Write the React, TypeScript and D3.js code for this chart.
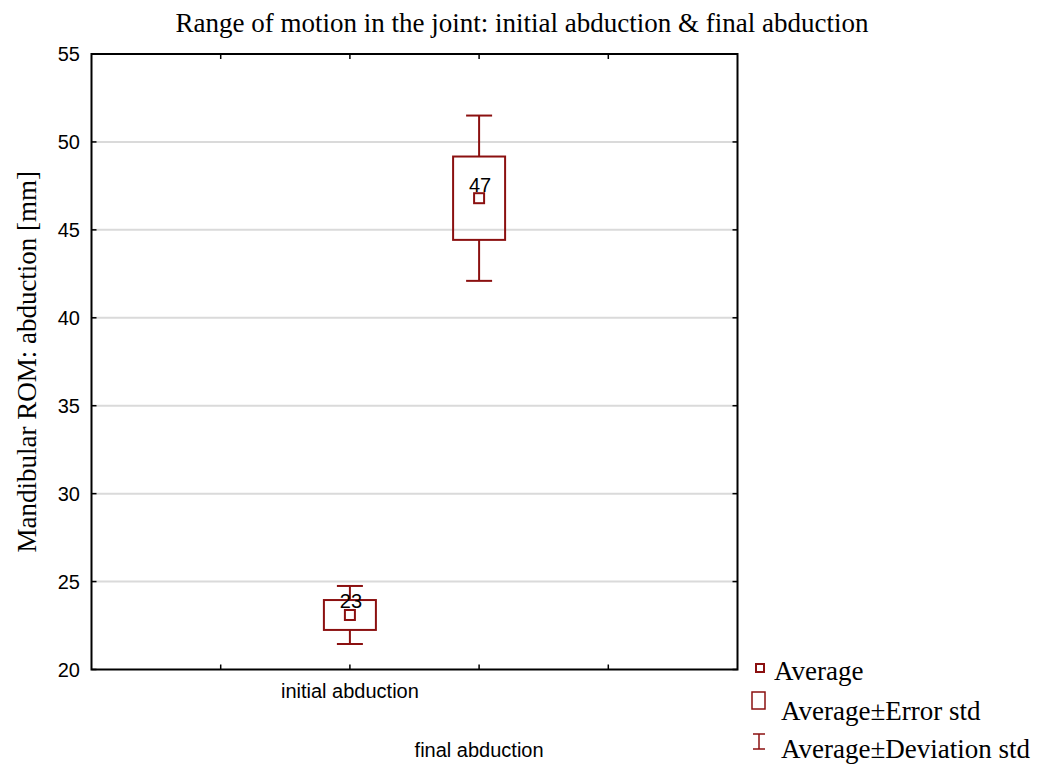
import React from "react";
import * as d3 from "d3";

// Range of motion summary: mean, standard error and standard deviation per measurement
const categories = ["initial abduction", "final abduction"];
const means = [23.1, 46.8];
const stdErrors = [0.85, 2.37];
const stdDevs = [1.65, 4.7];
const meanLabels = ["23", "47"];
const yTicks = [20, 25, 30, 35, 40, 45, 50, 55];
const legendItems = ["Average", "Average\u00B1Error std", "Average\u00B1Deviation std"];

const W = 1048;
const H = 765;
const M = { left: 91.5, right: 737.5, top: 54, bottom: 669.5 };
const RED = "#8b1010";
const SANS = "Liberation Sans, Arial, sans-serif";
const SERIF = "Liberation Serif, Times New Roman, serif";

export default function App() {
  const y = d3.scaleLinear().domain([20, 55]).range([M.bottom, M.top]);
  // Five equal slots across the frame; the two categories sit on the 2nd and 3rd tick
  const x = d3.scaleLinear().domain([0, 5]).range([M.left, M.right]);
  const slotTicks = [1, 2, 3, 4];
  const boxW = 52;
  const capW = 26;
  const markS = 10;

  return (
    <svg width={W} height={H} style={{ position: "absolute", left: 0, top: 0, background: "#fff" }}>
      <rect width={W} height={H} fill="#fff" />
      {/* grid */}
      {yTicks.slice(1, -1).map((t) => (
        <line key={"g" + t} x1={M.left} x2={M.right} y1={y(t)} y2={y(t)} stroke="#dadada" strokeWidth={2} />
      ))}
      {/* ticks inside the frame */}
      {yTicks.map((t) => (
        <g key={"yt" + t}>
          <line x1={M.left} x2={M.left + 5} y1={y(t)} y2={y(t)} stroke="#000" strokeWidth={1.5} />
          <line x1={M.right - 5} x2={M.right} y1={y(t)} y2={y(t)} stroke="#000" strokeWidth={1.5} />
          <text x={80} y={y(t)} dy="0.35em" textAnchor="end" fontFamily={SANS} fontSize={20} fill="#000">
            {t}
          </text>
        </g>
      ))}
      {slotTicks.map((s) => (
        <g key={"xt" + s}>
          <line x1={x(s)} x2={x(s)} y1={M.top} y2={M.top + 5} stroke="#000" strokeWidth={1.5} />
          <line x1={x(s)} x2={x(s)} y1={M.bottom} y2={M.bottom - 5} stroke="#000" strokeWidth={1.5} />
        </g>
      ))}
      <rect x={M.left} y={M.top} width={M.right - M.left} height={M.bottom - M.top} fill="none" stroke="#000" strokeWidth={2} />

      {/* boxes */}
      {categories.map((c, i) => {
        const cx = x(i + 2);
        const m = means[i];
        const se = stdErrors[i];
        const sd = stdDevs[i];
        return (
          <g key={c} stroke={RED} strokeWidth={2} fill="none">
            <line x1={cx} x2={cx} y1={y(m + sd)} y2={y(m + se)} />
            <line x1={cx} x2={cx} y1={y(m - se)} y2={y(m - sd)} />
            <line x1={cx - capW / 2} x2={cx + capW / 2} y1={y(m + sd)} y2={y(m + sd)} />
            <line x1={cx - capW / 2} x2={cx + capW / 2} y1={y(m - sd)} y2={y(m - sd)} />
            <rect x={cx - boxW / 2} y={y(m + se)} width={boxW} height={y(m - se) - y(m + se)} />
            <rect x={cx - markS / 2} y={y(m) - markS / 2} width={markS} height={markS} />
            <text x={cx + 1} y={y(m) - 6.5} textAnchor="middle" fontFamily={SANS} fontSize={20} fill="#000" stroke="none">
              {meanLabels[i]}
            </text>
          </g>
        );
      })}

      {/* category labels, staggered */}
      {categories.map((c, i) => (
        <text key={"cl" + c} x={x(i + 2)} y={i === 0 ? 698 : 757} textAnchor="middle" fontFamily={SANS} fontSize={20} fill="#000">
          {c}
        </text>
      ))}

      {/* title and axis label */}
      <text x={522} y={32} textAnchor="middle" fontFamily={SERIF} fontSize={27} fill="#000">
        Range of motion in the joint: initial abduction &amp; final abduction
      </text>
      <text transform={`translate(36, ${(M.top + M.bottom) / 2}) rotate(-90)`} textAnchor="middle" fontFamily={SERIF} fontSize={27} fill="#000">
        Mandibular ROM: abduction [mm]
      </text>

      {/* legend */}
      <g stroke={RED} strokeWidth={2} fill="none">
        <rect x={756} y={664} width={8} height={8} />
        <rect x={752} y={692} width={13} height={17} strokeWidth={1.5} />
        <line x1={759} x2={759} y1={734} y2={749} strokeWidth={1.5} />
        <line x1={753} x2={765} y1={734} y2={734} strokeWidth={1.5} />
        <line x1={753} x2={765} y1={749} y2={749} strokeWidth={1.5} />
      </g>
      <text x={774} y={680} fontFamily={SERIF} fontSize={27} fill="#000">{legendItems[0]}</text>
      <text x={781} y={720} fontFamily={SERIF} fontSize={27} fill="#000">{legendItems[1]}</text>
      <text x={781} y={758} fontFamily={SERIF} fontSize={27} fill="#000">{legendItems[2]}</text>
    </svg>
  );
}
